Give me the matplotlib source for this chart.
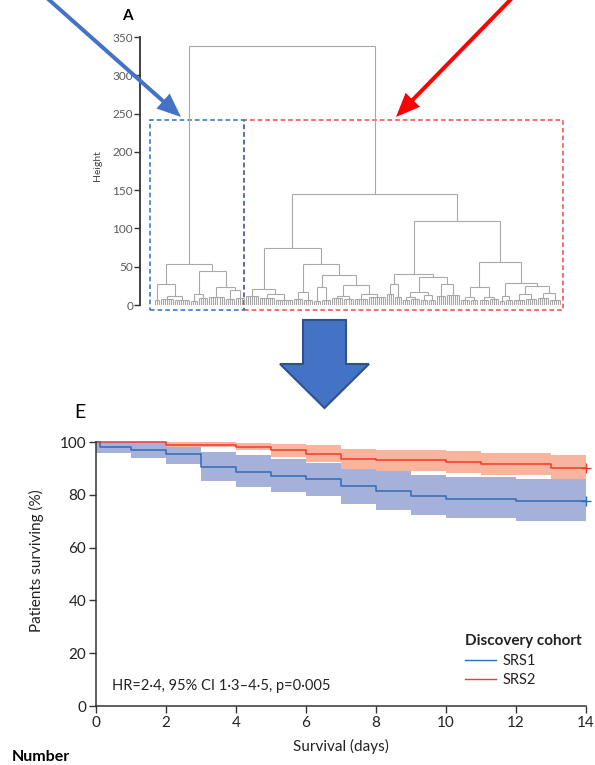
import matplotlib
matplotlib.use("Agg")
import matplotlib.pyplot as plt
from matplotlib.collections import LineCollection
from matplotlib.lines import Line2D
from matplotlib.patches import FancyArrow, Rectangle

plt.rcParams["font.family"] = ["Lato", "DejaVu Sans"]

# ---------------------------------------------------------------------------
# Panel A: hierarchical clustering tree
# internal node -> [merge height, left, right]; terminal bush -> (n_leaves, merge height)
cluster_srs1 = [53,
                [27, (3, 6), [12, (7, 8), (8, 7)]],
                [45, [15, (4, 5), (5, 9)],
                     [23, (8, 10), [19.6, (5, 8), (5, 9)]]]]
cluster_srs2 = [145,
                [75,
                 [20.5, (7, 12), [14, (8, 9), (9, 7)]],
                 [53,
                  [17, (5, 8), (5, 6)],
                  [39, [23, (4, 5), (5, 7)],
                       [26, [12, (6, 9), (5, 8)], [14, (7, 8), (9, 10)]]]]],
                [110,
                 [40,
                  [27, (4, 14), (4, 10)],
                  [37, [17, [11, (4, 6), (5, 8)], [13, (4, 6), (4, 7)]],
                       [28, (5, 12), (7, 13)]]],
                 [56,
                  [23, [10, (5, 6), (4, 7)], [11, (5, 7), (5, 8)]],
                  [29, [12, (3, 5), (4, 7)],
                       [25, [14, (6, 7), (6, 8)], [16, (6, 9), (6, 7)]]]]]]
root_height = 338
height_ticks = [0, 50, 100, 150, 200, 250, 300, 350]
box_top = 241.5

# ---------------------------------------------------------------------------
# Panel E: Kaplan-Meier curves with 95% CI bands (step functions, post)
days_srs1 = [0, 0.1, 1, 2, 3, 4, 5, 6, 7, 8, 9, 10, 12, 14]
surv_srs1 = [100, 98.0, 97.1, 95.3, 90.5, 88.8, 87.0, 86.0, 83.3, 81.3, 79.4, 78.4, 77.8, 77.8]
lo_srs1 = [95.7, 95.7, 94.1, 91.5, 85.2, 83.1, 80.9, 79.7, 76.4, 74.2, 72.2, 71.1, 70.2, 70.2]
hi_srs1 = [100, 100, 100, 98.0, 96.2, 95.1, 93.6, 92.2, 89.7, 89.0, 87.5, 86.9, 85.9, 85.9]

days_srs2 = [0, 2, 4, 5, 6, 7, 8, 10, 11, 13, 14]
surv_srs2 = [100, 99.0, 98.2, 96.8, 95.3, 93.7, 93.1, 92.3, 91.5, 90.0, 90.0]
lo_srs2 = [100, 98.0, 96.8, 94.5, 92.3, 89.7, 89.0, 88.1, 87.5, 85.9, 85.9]
hi_srs2 = [100, 100, 99.6, 99.4, 98.9, 97.5, 97.0, 96.6, 95.9, 95.1, 95.1]

day_ticks = [0, 2, 4, 6, 8, 10, 12, 14]
pct_ticks = [0, 20, 40, 60, 80, 100]
stats_text = "HR=2·4, 95% CI 1·3–4·5, p=0·005"

BLUE_LINE = "#2f6db5"
RED_LINE = "#ee3b2b"
BLUE_BAND = "#a5b1d9"
RED_BAND = "#f9b49d"
TREE_GREY = "#a8a8a8"
AXIS_DARK = "#333333"
TEXT_DARK = "#222222"


def layout(node, start, segs):
    """Place a subtree starting at leaf index `start`; return (x, height, n_leaves)."""
    if isinstance(node, tuple):
        n, h = node
        for i in range(n):
            segs.append([(start + i, 0), (start + i, h)])
        segs.append([(start, h), (start + n - 1, h)])
        return start + (n - 1) / 2, h, n
    h, left, right = node
    xl, hl, nl = layout(left, start, segs)
    xr, hr, nr = layout(right, start + nl, segs)
    segs.append([(xl, hl), (xl, h)])
    segs.append([(xr, hr), (xr, h)])
    segs.append([(xl, h), (xr, h)])
    return (xl + xr) / 2, h, nl + nr


fig = plt.figure(figsize=(5.95, 7.65), dpi=100)
W, H = 595, 765


def px_axes(x0, y0, x1, y1):
    return fig.add_axes([x0 / W, 1 - y1 / H, (x1 - x0) / W, (y1 - y0) / H])


# ---- dendrogram ----
ax_a = px_axes(140, 37, 570, 305)
segs = []
root = [root_height, cluster_srs1, cluster_srs2]
layout(root, 0, segs)
ax_a.add_collection(LineCollection(segs, colors=TREE_GREY, linewidths=0.8))
ax_a.set_xlim(-7.45, 205.9)
ax_a.set_ylim(0, 350)
ax_a.set_yticks(height_ticks)
ax_a.set_xticks([])
for side in ("top", "right", "bottom"):
    ax_a.spines[side].set_visible(False)
ax_a.spines["left"].set_color(AXIS_DARK)
ax_a.spines["left"].set_linewidth(1.3)
ax_a.tick_params(axis="y", length=4, width=1, color=AXIS_DARK, labelsize=8.5,
                 labelcolor="#5a5a5a", pad=1)
ax_a.set_ylabel("Height", fontsize=7.5, color="#444444")
ax_a.yaxis.set_label_coords(-0.088, 0.52)

n_srs1 = 45
n_all = 202
ax_a.add_patch(Rectangle((n_srs1 - 1, -6.5), (n_all + 1.5) - n_srs1, box_top + 6.5,
                         fill=False, ec="#f04848", lw=1.1, ls=(0, (3, 2)), clip_on=False))
ax_a.add_patch(Rectangle((-2.5, -6.5), n_srs1 + 1.5, box_top + 6.5,
                         fill=False, ec="#2a72c0", lw=1.1, ls=(0, (3, 2)), clip_on=False))
fig.text(127 / W, 1 - 16 / H, "A", ha="center", va="center", fontsize=11, weight="bold")

# ---- survival curves ----
ax_e = px_axes(96, 442, 586, 706)
ax_e.fill_between(days_srs1, lo_srs1, hi_srs1, step="post", color=BLUE_BAND, lw=0, clip_on=False)
ax_e.fill_between(days_srs2, lo_srs2, hi_srs2, step="post", color=RED_BAND, lw=0, clip_on=False)
ax_e.step(days_srs1, surv_srs1, where="post", color=BLUE_LINE, lw=1.1, clip_on=False)
ax_e.step(days_srs2, surv_srs2, where="post", color=RED_LINE, lw=1.1, clip_on=False)
ax_e.plot(days_srs1[-1], surv_srs1[-1], marker="+", ms=7, mew=1, color=BLUE_LINE, clip_on=False)
ax_e.plot(days_srs2[-1], surv_srs2[-1], marker="+", ms=7, mew=1, color=RED_LINE, clip_on=False)

ax_e.set_xlim(0, 14)
ax_e.set_ylim(0, 100)
ax_e.set_xticks(day_ticks)
ax_e.set_yticks(pct_ticks)
for side in ("top", "right"):
    ax_e.spines[side].set_visible(False)
for side in ("left", "bottom"):
    ax_e.spines[side].set_color(AXIS_DARK)
    ax_e.spines[side].set_linewidth(1.1)
ax_e.tick_params(length=5, width=1, color=AXIS_DARK, labelsize=11,
                 labelcolor=TEXT_DARK, pad=2)
ax_e.set_xlabel("Survival (days)", fontsize=11, color=TEXT_DARK)
ax_e.xaxis.set_label_coords(0.5, -0.155)
ax_e.xaxis.label.set_va("center")
ax_e.set_ylabel("Patients surviving (%)", fontsize=11, color=TEXT_DARK)
ax_e.yaxis.set_label_coords(-0.122, 0.55)
ax_e.yaxis.label.set_va("center")

ax_e.text(0.46, 7.6, stats_text, fontsize=10.5, color=TEXT_DARK, va="center", ha="left")

handles = [Line2D([], [], color=BLUE_LINE, lw=1), Line2D([], [], color=RED_LINE, lw=1)]
leg = ax_e.legend(handles, ["SRS1", "SRS2"], title="Discovery cohort",
                  loc="upper left", bbox_to_anchor=(0.753, 0.272), frameon=False,
                  alignment="left", handlelength=2.1, handletextpad=0.45,
                  borderpad=0, borderaxespad=0, labelspacing=0.38,
                  fontsize=10.5, title_fontproperties={"weight": "bold", "size": 11})
for t in leg.get_texts():
    t.set_color(TEXT_DARK)
leg.get_title().set_color(TEXT_DARK)

fig.text(80 / W, 1 - 413 / H, "E", ha="center", va="center", fontsize=14)
fig.text(12 / W, 1 - 761 / H, "Number", ha="left", va="baseline", fontsize=11.5, weight="bold")

# ---- arrows linking the two panels ----
ax_o = fig.add_axes([0, 0, 1, 1], zorder=5)
ax_o.set_xlim(0, W)
ax_o.set_ylim(H, 0)
ax_o.axis("off")
ax_o.patch.set_alpha(0)
ax_o.add_patch(FancyArrow(38, -10, 143, 127, width=4, head_width=20, head_length=24,
                          length_includes_head=True, color="#4472c4", lw=0))
ax_o.add_patch(FancyArrow(518, -8, -122, 125, width=4, head_width=20, head_length=24,
                          length_includes_head=True, color="#ff0000", lw=0))
ax_o.add_patch(FancyArrow(324.5, 320, 0, 88, width=43, head_width=89, head_length=44,
                          length_includes_head=True, fc="#4472c4", ec="#2f528f", lw=1.5))

fig.savefig("out.png", dpi=100)
